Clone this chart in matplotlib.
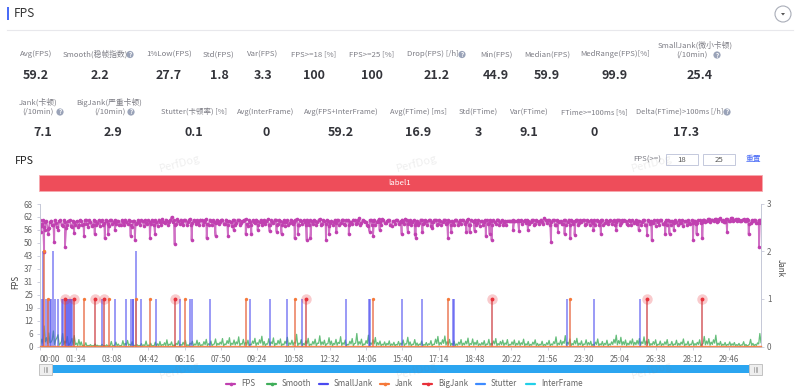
import numpy as np
import matplotlib
matplotlib.use('Agg')
import matplotlib.pyplot as plt
from matplotlib.patches import Rectangle, Circle, Polygon

plt.rcParams['font.family'] = ['Noto Sans CJK SC', 'DejaVu Sans']

# one FPS reading every 6 s
fps_base = [
    60.2, 58.4, 57.1, 59.8, 56.4, 60.1, 58.2, 59.1, 55.8, 60.3, 57.4, 59.6, 58.1, 60.4, 56.9, 59.2, 60.0, 57.8, 59.7, 58.6, 60.5, 57.2, 59.4, 58.0, 60.1, 59.0,
    57.6, 60.2, 58.9, 59.7, 57.3, 60.4, 59.2, 58.3, 60.0, 57.9, 59.5, 60.6, 58.4, 59.8, 57.2, 60.1, 58.8, 59.6, 60.3, 57.7, 59.1, 60.2, 58.5, 59.9, 60.4, 57.5,
    59.6, 60.8, 58.7, 60.1, 59.3, 61.9, 60.2, 58.6, 59.9, 60.6, 57.8, 60.3, 59.4, 60.9, 58.9, 59.7, 60.4, 58.2, 60.2, 59.5, 60.7, 57.9, 59.8, 60.3, 58.8, 60.0,
    59.2, 60.6, 58.3, 60.1, 59.7, 57.6, 60.4, 59.0, 60.2, 58.7, 59.9, 60.8, 57.4, 59.6, 60.3, 58.9, 60.1, 59.4, 58.1, 60.5, 59.8, 57.8, 60.2, 59.1, 60.6, 58.4,
    60.0, 59.5, 57.7, 60.3, 58.8, 60.1, 59.3, 60.7, 58.2, 59.9, 60.4, 57.9, 59.6, 60.2, 58.6, 60.0, 59.2, 60.9, 58.3, 59.7, 60.5, 57.5, 60.1, 59.4, 58.9, 60.3,
    59.0, 60.6, 57.8, 60.2, 59.6, 58.5, 60.4, 59.1, 61.2, 58.7, 60.0, 59.5, 57.6, 60.3, 59.8, 58.2, 60.1, 59.3, 60.7, 58.8, 59.9, 60.2, 57.4, 59.7, 60.5, 58.6,
    60.0, 59.2, 61.0, 58.4, 60.3, 59.6, 57.9, 60.1, 59.0, 60.4, 58.7, 59.8, 60.2, 57.7, 59.5, 60.6, 58.3, 60.0, 59.4, 60.3, 58.9, 59.7, 60.1, 57.8, 60.5, 59.2,
    58.6, 60.2, 59.6, 60.8, 58.1, 59.9, 60.3, 59.1, 57.6, 60.0, 59.5, 60.4, 58.8, 59.7, 60.2, 58.4, 60.6, 59.3, 57.9, 60.1, 59.8, 60.0, 59.9, 60.1, 60.0, 59.8,
    60.2, 59.7, 58.9, 60.1, 59.4, 60.3, 58.5, 59.9, 60.0, 59.6, 61.2, 58.7, 60.2, 59.3, 60.4, 57.8, 59.8, 60.1, 58.6, 60.3, 59.5, 58.2, 60.0, 59.7, 60.5, 58.9,
    59.4, 60.2, 58.3, 59.9, 60.4, 59.1, 57.9, 60.1, 59.6, 60.3, 58.7, 59.8, 60.0, 58.4, 60.2, 59.5, 60.6, 58.8, 59.7, 60.1, 58.1, 59.9, 60.3, 59.2, 58.6, 60.0,
    59.6, 60.4, 58.2, 59.8, 60.1, 59.0, 57.7, 59.5, 60.2, 58.5, 59.3, 58.0, 59.9, 60.1, 58.8, 59.4, 60.3, 59.0, 57.6, 59.7, 60.2, 58.3, 59.1, 60.0, 58.9, 60.4,
    59.5, 60.6, 59.8, 60.9, 60.2, 59.7, 60.8, 59.9, 61.1, 60.3, 59.6, 60.7, 60.0, 61.2, 60.4, 59.8, 60.6, 60.1, 60.9, 59.7, 60.5, 58.8, 59.9, 60.2, 59.1, 60.4,
]

# the readings in between, 3 s later than the ones above
fps_between = [
    57.4, 60.3, 59.2, 56.2, 59.6, 57.8, 60.4, 56.8, 59.9, 58.0, 60.2, 56.6, 60.0, 57.6, 60.1, 58.2, 57.2, 60.4, 58.1, 60.2, 58.4, 60.3, 57.4, 60.5, 58.2, 60.3,
    59.8, 58.0, 60.5, 58.3, 60.2, 58.6, 60.4, 59.9, 58.2, 60.3, 58.0, 59.6, 60.5, 58.1, 59.9, 58.6, 60.4, 58.0, 59.7, 60.4, 58.3, 59.6, 60.5, 58.0, 59.4, 60.6,
    58.1, 59.5, 60.6, 58.2, 60.4, 59.2, 58.0, 60.7, 58.3, 59.4, 60.5, 58.2, 60.6, 58.1, 60.4, 58.6, 59.5, 60.6, 58.1, 60.3, 58.4, 60.6, 58.2, 59.6, 60.5, 58.3,
    60.4, 58.5, 60.6, 58.2, 59.6, 60.5, 58.1, 60.6, 58.0, 59.9, 60.5, 58.4, 60.2, 58.1, 59.4, 60.6, 58.2, 60.5, 59.6, 58.3, 60.7, 58.0, 59.3, 60.6, 58.2, 60.5,
    58.2, 60.4, 59.5, 58.1, 60.6, 58.3, 60.5, 58.0, 60.4, 58.4, 59.4, 60.6, 58.2, 59.8, 60.5, 58.1, 60.6, 58.0, 60.3, 58.6, 60.1, 59.0, 58.2, 60.5, 60.2, 58.1,
    60.5, 58.3, 60.4, 58.0, 59.4, 60.6, 58.4, 60.3, 58.1, 60.5, 59.6, 58.2, 60.4, 58.0, 60.6, 59.4, 60.7, 58.0, 60.3, 59.1, 60.4, 58.1, 59.9, 58.3, 60.4, 59.5,
    60.6, 58.3, 60.2, 59.5, 58.1, 60.4, 59.0, 58.2, 60.6, 58.3, 60.4, 58.0, 60.5, 59.2, 60.4, 58.1, 60.5, 58.2, 60.6, 58.5, 60.2, 58.1, 59.6, 60.5, 58.2, 60.3,
    60.4, 58.3, 60.5, 58.1, 60.4, 59.2, 58.1, 60.5, 59.9, 58.2, 60.4, 58.3, 60.5, 58.1, 59.4, 60.6, 58.2, 60.4, 59.4, 58.2, 60.1, 59.9, 60.2, 59.8, 60.2, 60.1,
    58.3, 60.2, 60.4, 58.4, 60.5, 58.1, 60.4, 58.3, 60.6, 58.4, 60.2, 60.3, 58.2, 60.5, 58.0, 60.4, 59.2, 58.3, 60.4, 58.2, 60.6, 60.3, 58.3, 60.4, 58.1, 60.3,
    60.4, 58.1, 60.3, 58.2, 59.2, 60.5, 60.2, 58.2, 60.4, 58.0, 60.2, 58.6, 60.4, 60.1, 58.0, 60.5, 58.1, 60.3, 60.2, 58.3, 60.5, 58.1, 58.8, 60.4, 60.1, 58.2,
    60.3, 58.0, 60.4, 58.4, 59.2, 60.3, 60.2, 58.0, 60.4, 58.6, 60.3, 60.2, 58.2, 59.4, 60.3, 58.0, 59.1, 60.4, 60.0, 58.2, 59.0, 60.4, 60.1, 58.4, 60.3, 58.8,
    60.4, 59.4, 60.7, 59.5, 60.6, 60.9, 59.6, 60.8, 60.0, 59.6, 60.9, 60.1, 61.3, 59.7, 60.7, 61.0, 59.8, 60.5, 59.9, 60.8, 58.6, 60.2, 60.4, 58.9, 60.3, 58.7,
]

# dips below the band, as (seconds, FPS)
dip_times = [3, 12, 14, 23, 38, 66, 90, 115, 143, 169, 178, 195, 236, 247, 286, 299, 350, 394, 433,
             456, 488, 503, 534, 549, 565, 596, 614, 627, 661, 669, 692, 702, 742, 750, 769, 801, 855, 864, 881,
             938, 954, 972, 975, 992, 1018, 1058, 1067, 1106, 1114, 1127, 1156, 1166, 1171, 1227, 1242, 1265, 1325,
             1343, 1360, 1375, 1386, 1435, 1454, 1494, 1552, 1574, 1586, 1621, 1632, 1643, 1693, 1702, 1717, 1781, 1837, 1864]
dip_fps = [54.8, 44.9, 55.7, 53.7, 49.8, 47.7, 54.2, 52.8, 53.7, 51.7, 53.7, 55.6, 52.8, 50.9, 51.7, 53.7, 48.8, 50.9, 51.7,
           52.8, 52.8, 55.7, 53.7, 53.7, 55.7, 55.0, 54.8, 53.7, 51.7, 53.7, 50.9, 52.0, 50.9, 53.7, 54.8, 53.7, 54.8, 52.8, 55.7,
           53.7, 54.8, 53.7, 51.7, 54.8, 56.5, 51.7, 54.8, 54.8, 54.8, 55.2, 52.8, 53.7, 50.9, 55.7, 55.2, 55.7, 49.8,
           54.8, 53.7, 51.7, 53.4, 55.7, 53.7, 55.7, 55.7, 53.0, 50.9, 53.7, 53.7, 55.7, 50.9, 53.7, 51.7, 54.8, 53.7, 47.7]

# Smooth, one reading every 6 s
smooth_vals = [
    1.2, 3.5, 9.8, 4.2, 6.5, 2.1, 7.4, 3.2, 5.6, 1.4, 6.2, 2.6, 4.8, 1.1, 3.9, 5.2, 1.6, 3.3, 2.2, 0.6, 1.8, 0.5, 0.9, 0.4, 1.2, 0.6,
    0.3, 1.0, 0.4, 0.8, 0.3, 2.4, 0.5, 2.1, 1.2, 0.4, 2.8, 1.5, 2.9, 1.1, 2.3, 0.6, 1.0, 0.5, 1.4, 0.8, 2.6, 0.7, 1.6, 0.4, 2.1, 1.3,
    2.4, 0.9, 1.8, 3.2, 1.1, 2.2, 0.7, 1.5, 2.7, 1.0, 2.0, 2.9, 0.8, 1.6, 2.5, 1.2, 3.0, 1.9, 0.8, 2.3, 3.4, 1.3, 2.6, 1.0, 3.6, 1.5,
    2.1, 3.8, 1.2, 2.8, 4.2, 1.6, 3.1, 2.2, 4.6, 1.4, 3.4, 2.0, 3.0, 1.1, 2.6, 3.9, 1.8, 3.2, 4.9, 2.4, 1.3, 3.7, 2.2, 4.1, 1.5, 2.9,
    3.6, 1.2, 2.5, 4.4, 1.7, 3.0, 2.1, 5.8, 1.6, 3.3, 1.4, 2.7, 3.9, 1.1, 2.4, 3.5, 1.6, 5.1, 2.2, 3.0, 1.3, 4.2, 2.6, 1.5, 3.4, 2.0,
    4.7, 1.8, 3.1, 1.0, 2.5, 3.8, 1.4, 6.2, 2.3, 3.5, 1.2, 2.8, 5.4, 1.7, 3.2, 4.3, 1.9, 2.6, 1.1, 2.2, 1.5, 2.7, 1.2, 2.0, 1.0, 2.4,
    1.6, 3.1, 1.3, 4.4, 2.2, 1.1, 3.3, 1.7, 1.2, 2.6, 1.0, 1.9, 1.3, 2.8, 1.1, 3.5, 4.8, 1.9, 3.2, 5.0, 2.3, 3.4, 1.5, 2.6, 1.2, 2.1,
    3.3, 1.6, 2.5, 4.0, 1.4, 3.6, 2.0, 2.9, 1.3, 1.9, 2.8, 1.2, 3.4, 1.5, 2.6, 3.8, 1.4, 2.4, 3.0, 1.7, 3.3, 1.0, 2.2, 3.1, 1.5, 2.7,
    1.8, 3.5, 1.3, 2.4, 1.0, 2.1, 3.2, 1.5, 1.1, 2.5, 1.0, 1.8, 2.9, 1.2, 2.3, 4.6, 1.6, 3.0, 2.4, 5.2, 2.0, 3.6, 1.4, 2.8, 3.9, 1.6,
    2.7, 1.2, 3.2, 1.9, 2.5, 1.1, 2.1, 3.6, 1.3, 2.4, 1.5, 3.0, 1.2, 2.2, 3.4, 5.4, 2.8, 4.4, 2.3, 3.1, 1.6, 2.7, 3.6, 2.0, 2.9, 3.8,
    2.2, 4.6, 2.6, 3.4, 1.4, 2.3, 3.2, 1.1, 2.6, 1.3, 2.2, 3.3, 1.0, 2.4, 1.2, 3.0, 1.5, 2.1, 3.6, 1.2, 2.5, 1.1, 2.9, 1.4, 2.0, 3.2,
    1.0, 4.8, 2.6, 3.8, 2.1, 3.2, 5.4, 1.6, 2.4, 1.1, 1.9, 1.0, 2.2, 1.3, 1.9, 0.9, 1.5, 0.8, 2.3, 1.0, 0.6, 3.4, 1.5, 1.0, 1.7, 6.2,
]

# the low readings between the Smooth spikes, 3 s later
smooth_between = [
    0.4, 1.6, 2.2, 1.4, 1.8, 3.2, 1.0, 4.1, 0.6, 2.4, 0.9, 1.6, 0.5, 2.2, 0.7, 0.9, 0.4, 0.5, 0.3, 0.4, 0.2, 0.3, 0.2, 0.4, 0.3, 0.2,
    0.2, 0.3, 0.2, 0.2, 0.4, 0.3, 0.6, 0.3, 0.2, 0.5, 0.4, 0.7, 0.5, 0.4, 0.2, 0.3, 0.2, 0.3, 0.2, 0.4, 0.3, 0.2, 0.3, 0.4, 0.3, 0.2,
    0.3, 0.6, 0.4, 0.3, 0.7, 0.2, 0.4, 0.9, 0.3, 0.5, 0.8, 0.2, 0.4, 1.0, 0.3, 0.7, 0.4, 0.2, 0.6, 0.9, 0.4, 0.8, 0.3, 1.2, 0.5, 0.8,
    1.1, 0.3, 0.9, 1.4, 0.5, 1.0, 0.7, 1.2, 0.4, 1.1, 0.6, 0.9, 0.3, 0.8, 1.4, 0.5, 1.0, 1.6, 0.6, 0.4, 1.1, 0.6, 1.3, 0.3, 0.9, 1.2,
    0.3, 0.8, 1.3, 0.5, 1.0, 0.6, 1.5, 0.4, 1.1, 0.3, 0.8, 1.2, 0.3, 0.7, 1.1, 0.4, 1.5, 0.7, 1.0, 0.4, 1.3, 0.8, 0.3, 1.0, 0.6, 1.4,
    0.5, 1.0, 0.3, 0.8, 1.2, 0.4, 1.6, 0.7, 1.1, 0.3, 0.9, 1.4, 0.5, 1.0, 1.2, 0.5, 0.8, 0.3, 0.7, 0.4, 0.8, 0.3, 0.6, 0.3, 0.7, 0.5,
    0.9, 0.4, 1.2, 0.6, 0.3, 1.0, 0.5, 0.3, 0.8, 0.3, 0.6, 0.4, 0.9, 0.3, 1.0, 1.4, 0.6, 1.0, 1.5, 0.7, 1.0, 0.4, 0.8, 0.3, 0.6, 1.0,
    0.5, 0.8, 1.2, 0.4, 1.0, 0.6, 0.9, 0.4, 0.6, 0.8, 0.3, 1.0, 0.5, 0.8, 1.2, 0.4, 0.7, 0.9, 0.5, 1.0, 0.3, 0.7, 0.9, 0.4, 0.8, 0.5,
    1.0, 0.4, 0.7, 0.3, 0.6, 1.0, 0.4, 0.3, 0.7, 0.3, 0.5, 0.9, 0.3, 0.7, 1.3, 0.5, 0.9, 0.7, 1.5, 0.6, 1.1, 0.4, 0.8, 1.2, 0.5, 0.8,
    0.3, 1.0, 0.6, 0.8, 0.3, 0.6, 1.0, 0.4, 0.7, 0.4, 0.9, 0.3, 0.7, 1.0, 1.6, 0.8, 1.3, 0.7, 0.9, 0.5, 0.8, 1.1, 0.6, 0.9, 1.1, 0.6,
    1.4, 0.8, 1.0, 0.4, 0.7, 1.0, 0.3, 0.8, 0.4, 0.7, 1.0, 0.3, 0.7, 0.4, 0.9, 0.5, 0.6, 1.1, 0.3, 0.8, 0.3, 0.9, 0.4, 0.6, 1.0, 0.3,
    1.4, 0.8, 1.1, 0.6, 1.0, 1.6, 0.5, 0.7, 0.3, 0.6, 0.3, 0.7, 0.4, 0.6, 0.3, 0.5, 0.2, 0.7, 0.3, 0.2, 1.0, 0.5, 0.3, 0.5, 1.2, 1.8,
]

# jank events, in seconds, on the right axis
small_jank_t = [1, 3, 8, 9, 16, 21, 27, 31, 35, 40, 47, 57, 61, 68, 71, 73, 76, 78, 81, 84, 161, 195, 225, 238, 241, 242, 249, 262,
                301, 364, 391, 395, 442, 545, 596, 641, 680, 793, 854, 857, 938, 991, 1070, 1073, 1367, 1436, 1555]
small_jank_v = [1, 1, 1, 2, 1, 1, 1, 1, 2, 1, 1, 1, 1, 1, 1, 1, 1, 1, 1, 1, 1, 1, 1, 1, 1, 1, 2, 1,
                1, 1, 1, 1, 1, 1, 1, 1, 1, 1, 1, 1, 1, 1, 1, 1, 1, 1, 1]
jank_t = [12, 21, 115, 179, 250, 285, 376, 534, 661, 864, 1059, 1375]
jank_v = [2, 1, 1, 1, 1, 1, 1, 1, 1, 1, 1, 1]
big_jank_t = [66, 89, 143, 168, 352, 690, 1171, 1574, 1717]
big_jank_v = [1, 1, 1, 1, 1, 1, 1, 1, 1]

x_labels = ['00:00', '01:34', '03:08', '04:42', '06:16', '07:50', '09:24', '10:58', '12:32', '14:06',
            '15:40', '17:14', '18:48', '20:22', '21:56', '23:30', '25:04', '26:38', '28:12', '29:46']
y_left_labels = ['0', '6', '12', '19', '25', '31', '37', '43', '50', '56', '62', '68']
y_right_labels = ['0', '1', '2', '3']

stat_names_1 = ['Avg(FPS)', 'Smooth(稳帧指数)', '1%Low(FPS)', 'Std(FPS)', 'Var(FPS)', 'FPS>=18 [%]', 'FPS>=25 [%]',
                'Drop(FPS) [/h]', 'Min(FPS)', 'Median(FPS)', 'MedRange(FPS)[%]']
stat_vals_1 = ['59.2', '2.2', '27.7', '1.8', '3.3', '100', '100', '21.2', '44.9', '59.9', '99.9']
stat_label_x_1 = [36, 95, 169, 219, 263, 314, 372, 433, 496, 547, 615]
stat_val_x_1 = [36, 100, 169, 219, 263, 314, 372, 437, 496, 547, 615]

stat_names_2 = ['Stutter(卡顿率) [%]', 'Avg(InterFrame)', 'Avg(FPS+InterFrame)', 'Avg(FTime) [ms]', 'Std(FTime)',
                'Var(FTime)', 'FTime>=100ms [%]', 'Delta(FTime)>100ms [/h]']
stat_vals_2 = ['0.1', '0', '59.2', '16.9', '3', '9.1', '0', '17.3']
stat_label_x_2 = [194, 266, 341, 418, 478, 529, 594, 680]
stat_val_x_2 = [194, 266, 341, 418, 478, 529, 594, 686]

legend_names = ['FPS', 'Smooth', 'SmallJank', 'Jank', 'BigJank', 'Stutter', 'InterFrame']
legend_colors = ['#c040b0', '#3fae5a', '#4a4af0', '#f5793a', '#e8303a', '#3d8bff', '#22cfe8']
legend_x = [226, 267, 319, 380, 423, 476, 526]

FPS_C, SMOOTH_C, SMALL_C, JANK_C, BIG_C, STUTTER_C, INTER_C = legend_colors
LABEL_C = '#7d7d85'
VALUE_C = '#33343a'
AXIS_C = '#c6c9d8'

total_secs = 1869
fps_t = np.arange(len(fps_base)) * 6
fps_t_b = np.arange(len(fps_between)) * 6 + 3
all_t = np.concatenate([fps_t, fps_t_b, dip_times])
all_v = np.concatenate([fps_base, fps_between, dip_fps])
order = np.argsort(all_t)

smooth_t = np.concatenate([np.arange(len(smooth_vals)) * 6, np.arange(len(smooth_between)) * 6 + 3])
smooth_v = np.concatenate([smooth_vals, smooth_between])
smooth_order = np.argsort(smooth_t)

fig = plt.figure(figsize=(8, 3.91), dpi=100, facecolor='white')

# overlay in pixel coordinates for the page furniture
page = fig.add_axes([0, 0, 1, 1], zorder=5)
page.set_xlim(0, 800)
page.set_ylim(391, 0)
page.axis('off')
page.patch.set_alpha(0)


def help_icon(x, y):
    page.add_patch(Circle((x, y), 3.6, color='#9aa3b8', lw=0))
    page.text(x, y, '?', fontsize=4.5, color='white', ha='center', va='center', fontweight='bold')


page.add_patch(Rectangle((7, 7), 2.2, 13, color='#4a6cf7', lw=0))
page.text(13.5, 13.8, 'FPS', fontsize=8.5, color='#333333', va='center')
page.plot([7, 793], [29.5, 29.5], color='#e8e8ec', lw=0.8)
page.add_patch(Circle((783, 14), 8, fc='white', ec='#a9adb8', lw=0.8))
page.add_patch(Polygon([[781, 13], [785, 13], [783, 15.5]], color='#555555', lw=0))

for name, val, lx, vx in zip(stat_names_1, stat_vals_1, stat_label_x_1, stat_val_x_1):
    page.text(lx, 54.5, name, fontsize=5.6, color=LABEL_C, ha='center', va='center')
    page.text(vx, 75.5, val, fontsize=9, color=VALUE_C, ha='center', va='center', fontweight='bold')
for name, val, lx, vx in zip(stat_names_2, stat_vals_2, stat_label_x_2, stat_val_x_2):
    page.text(lx, 112, name, fontsize=5.4, color=LABEL_C, ha='center', va='center')
    page.text(vx, 132.5, val, fontsize=9, color=VALUE_C, ha='center', va='center', fontweight='bold')

page.text(695, 45, 'SmallJank(微小卡顿)', fontsize=5.6, color=LABEL_C, ha='center', va='center')
page.text(692, 55, '(/10min)', fontsize=5.6, color=LABEL_C, ha='center', va='center')
page.text(700, 75.5, '25.4', fontsize=9, color=VALUE_C, ha='center', va='center', fontweight='bold')
page.text(38, 102.5, 'Jank(卡顿)', fontsize=5.6, color=LABEL_C, ha='center', va='center')
page.text(38, 112, '(/10min)', fontsize=5.6, color=LABEL_C, ha='center', va='center')
page.text(43, 132.5, '7.1', fontsize=9, color=VALUE_C, ha='center', va='center', fontweight='bold')
page.text(109, 102.5, 'BigJank(严重卡顿)', fontsize=5.6, color=LABEL_C, ha='center', va='center')
page.text(110, 112, '(/10min)', fontsize=5.6, color=LABEL_C, ha='center', va='center')
page.text(113, 132.5, '2.9', fontsize=9, color=VALUE_C, ha='center', va='center', fontweight='bold')

for ix, iy in [(130, 54.5), (462, 54.5), (717, 55), (60, 112), (131, 112), (727, 112)]:
    help_icon(ix, iy)

page.text(15, 161, 'FPS', fontsize=7.6, color='#222222', va='center')
page.add_patch(Rectangle((39, 175), 723, 16, fc='#ee4d5a', ec='#f7a9af', lw=0.6))
page.text(400, 183, 'label1', fontsize=5.6, color='white', ha='center', va='center')
page.text(647, 159.5, 'FPS(>=)', fontsize=5.6, color=LABEL_C, ha='center', va='center')
for bx, bt in [(666, '18'), (703, '25')]:
    page.add_patch(Rectangle((bx, 154), 32, 11, fc='white', ec='#c4c9dc', lw=0.7))
    page.text(bx + 16, 159.5, bt, fontsize=5.6, color='#555555', ha='center', va='center')
page.text(753, 159.5, '重置', fontsize=5.6, color='#4a6cf7', ha='center', va='center')

# zoom slider
page.add_patch(Rectangle((40, 365), 721, 8, color='#2ba5f0', lw=0))
for hx in [39, 749]:
    page.add_patch(Rectangle((hx, 363.5), 12.5, 11, fc='#eeeeee', ec='#c2c2c2', lw=0.7))
    page.plot([hx + 5, hx + 5], [366.5, 371.5], color='#999999', lw=0.5)
    page.plot([hx + 6.5, hx + 6.5], [366.5, 371.5], color='#999999', lw=0.5)
    page.plot([hx + 8, hx + 8], [366.5, 371.5], color='#999999', lw=0.5)

# legend
for name, col, lx in zip(legend_names, legend_colors, legend_x):
    page.plot([lx, lx + 9], [384, 384], color=col, lw=1.6, solid_capstyle='round')
    if name in ('FPS', 'Smooth', 'Jank', 'BigJank'):
        page.plot([lx + 4.5], [384], 'o', ms=2.6, color=col, mew=0)
    page.text(lx + 15, 384, name, fontsize=5.8, color='#666666', va='center')

# watermarks
for wx in [180, 417, 652]:
    for wy in [163, 370]:
        page.text(wx, wy, 'PerfDog', fontsize=8, color='#808080', alpha=0.13, rotation=15, ha='center', va='center')

# main chart
ax = fig.add_axes([39.5 / 800, 1 - 346.5 / 391, 721.5 / 800, 142.5 / 391], zorder=2)
ax.patch.set_alpha(0)
ax.set_xlim(0, total_secs)
ax.set_ylim(0, 68)
ax.plot(smooth_t[smooth_order], smooth_v[smooth_order], color=SMOOTH_C, lw=0.9, alpha=0.8, zorder=3)
ax.plot(all_t[order], all_v[order], color=FPS_C, lw=1.3, alpha=0.75, zorder=4)
ax.plot(all_t[order], all_v[order], ls='none', marker='o', ms=2.6, mew=0, color=FPS_C, zorder=5)

ax.set_xticks(np.arange(len(x_labels)) * 94)
ax.set_xticklabels(x_labels, fontsize=5.8, color='#666666')
ax.get_xticklabels()[0].set_ha('left')
ax.set_yticks(np.arange(len(y_left_labels)) * 68 / 11)
ax.set_yticklabels(y_left_labels, fontsize=5.8, color='#666666')
ax.set_ylabel('FPS', fontsize=5.8, color='#444444')
ax.yaxis.set_label_coords(-0.0265, 0.45)
ax.tick_params(axis='both', length=2.2, width=0.6, color=AXIS_C, pad=2.5)
ax.tick_params(axis='x', pad=4)

ax2 = ax.twinx()
ax2.set_zorder(3)
ax2.patch.set_alpha(0)
ax2.set_ylim(0, 3)
ax2.vlines(small_jank_t, 0, small_jank_v, color=SMALL_C, lw=1.3, alpha=0.6, zorder=2)
ax2.vlines(jank_t, 0, jank_v, color='#e8663f', lw=1.2, alpha=0.8, zorder=3)
ax2.vlines(big_jank_t, 0, big_jank_v, color='#cc3a40', lw=1.3, alpha=0.7, zorder=3)
ax2.plot(jank_t, jank_v, ls='none', marker='o', ms=2.4, mew=0, color=JANK_C, zorder=4)
ax2.plot(big_jank_t, big_jank_v, ls='none', marker='o', ms=7.5, mew=0, color=BIG_C, alpha=0.25, zorder=4)
ax2.plot(big_jank_t, big_jank_v, ls='none', marker='o', ms=2.8, mew=0, color=BIG_C, zorder=5)
ax2.plot([0, total_secs], [0.015, 0.015], color=JANK_C, lw=1.0, alpha=0.9, zorder=3, clip_on=False)
ax2.set_yticks([0, 1, 2, 3])
ax2.set_yticklabels(y_right_labels, fontsize=5.8, color='#666666')
ax2.set_ylabel('Jank', fontsize=5.8, color='#444444', rotation=270)
ax2.yaxis.set_label_coords(1.033, 0.55)
ax2.tick_params(axis='y', length=2.2, width=0.6, color=AXIS_C, pad=2)

for a in (ax, ax2):
    a.spines['top'].set_visible(False)
    a.spines['left'].set_color(AXIS_C)
    a.spines['right'].set_color(AXIS_C)
    a.spines['bottom'].set_color(AXIS_C)
    for s in a.spines.values():
        s.set_linewidth(0.7)

fig.savefig('out.png', dpi=100)
